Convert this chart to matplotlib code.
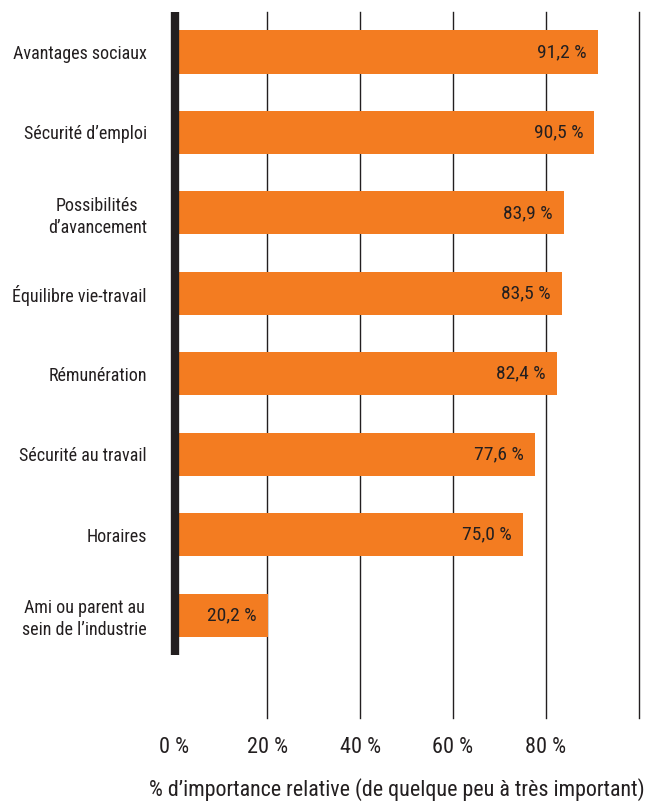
import matplotlib.pyplot as plt

plt.rcParams['font.family'] = ['Roboto Condensed', 'DejaVu Sans']

categories = ["Avantages sociaux", "Sécurité d’emploi", "Possibilités\nd’avancement",
              "Équilibre vie-travail", "Rémunération", "Sécurité au travail",
              "Horaires", "Ami ou parent au\nsein de l’industrie"]
values = [91.2, 90.5, 83.9, 83.5, 82.4, 77.6, 75.0, 20.2]
ticks = [0, 20, 40, 60, 80, 100]
tick_labels = ["0 %", "20 %", "40 %", "60 %", "80 %", ""]

orange = '#f37c21'
dark = '#231f20'

W, H = 646, 802
fig = plt.figure(figsize=(W / 100, H / 100), dpi=100)
# axes box in pixels: left 174.5, right 638.5, top 12, bottom 718
ax = fig.add_axes([174.5 / W, 1 - 718 / H, 464 / W, 706 / H])

ypos = list(range(len(values)))
ax.barh(ypos, values, height=0.535, color=orange, zorder=2)

for y, v in zip(ypos, values):
    ax.text(v - 2.4, y, f"{v:.1f} %".replace('.', ','), ha='right', va='center',
            fontsize=14, color=dark, zorder=3)

ax.set_xlim(0, 100)
ax.set_ylim(8.28, -0.4975)

for t in ticks[1:]:
    ax.axvline(t, color=dark, lw=1.0, zorder=1, clip_on=False)
# thick left axis line
ax.plot([0, 0], [-0.4975, 7.5], color=dark, lw=6, solid_capstyle='butt',
        zorder=4, clip_on=False)

for s in ax.spines.values():
    s.set_visible(False)

ax.set_yticks(ypos)
ax.set_yticklabels(categories, fontsize=13, color=dark, multialignment='center',
                   linespacing=1.3)
ax.set_xticks(ticks)
ax.set_xticklabels(tick_labels, fontsize=16, color=dark)
ax.tick_params(length=0)
ax.tick_params(axis='x', pad=14)
ax.tick_params(axis='y', pad=20)

fig.text(397 / W, 1 - 790 / H,
         "% d’importance relative (de quelque peu à très important)",
         ha='center', va='center', fontsize=15.8, color=dark)

fig.savefig('out.png', dpi=100)
